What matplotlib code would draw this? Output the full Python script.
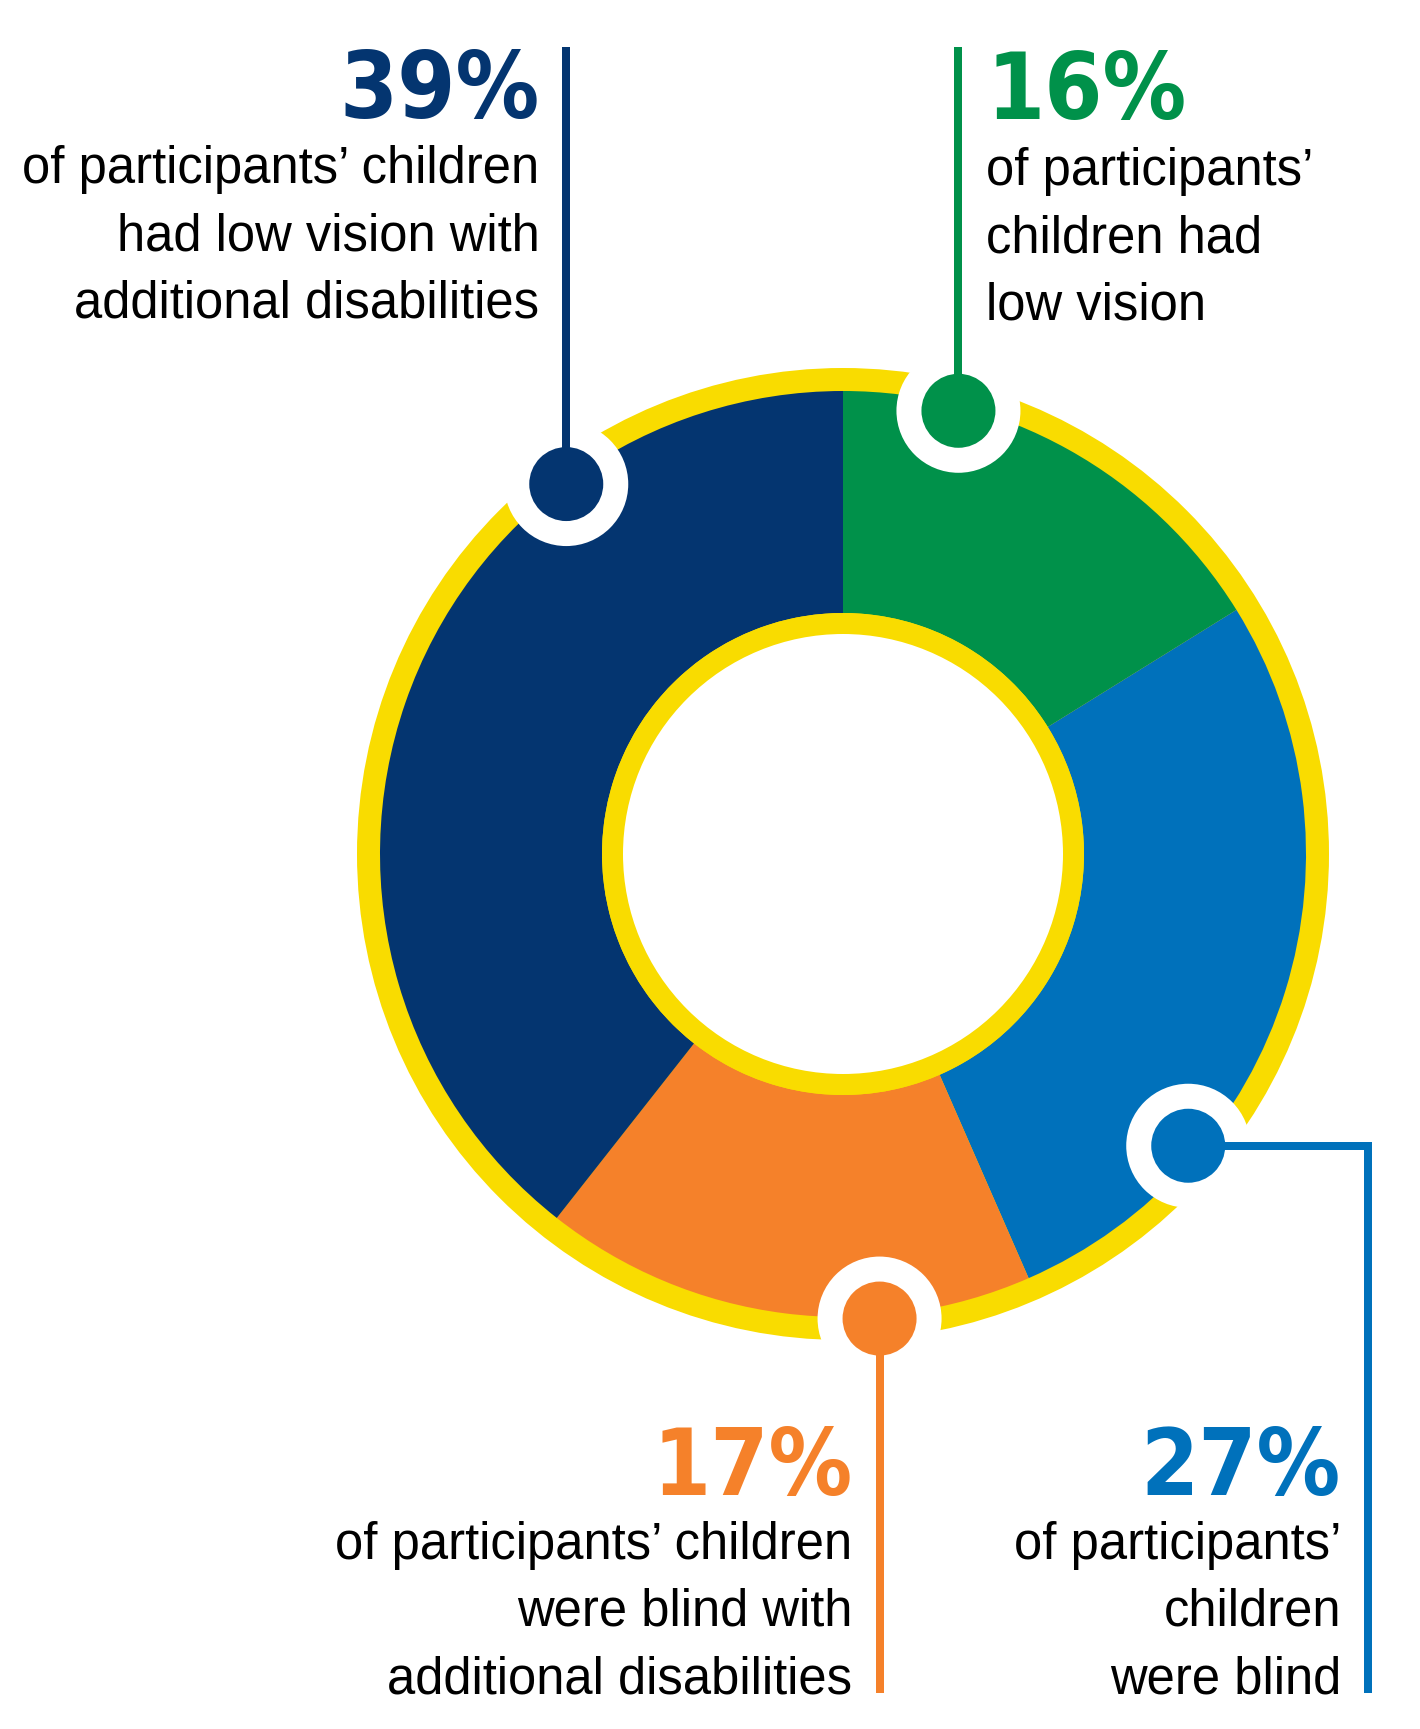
import matplotlib
matplotlib.use("Agg")
import matplotlib.pyplot as plt
from matplotlib import font_manager
from matplotlib.font_manager import FontProperties
from matplotlib.patches import Circle
from math import sin, cos, radians

# data: share of participants' children, clockwise from 12 o'clock
shares = [16, 27, 17, 39]
pct_labels = ["16%", "27%", "17%", "39%"]
descriptions = [
    "of participants’\nchildren had\nlow vision",
    "of participants’\nchildren\nwere blind",
    "of participants’ children\nwere blind with\nadditional disabilities",
    "of participants’ children\nhad low vision with\nadditional disabilities",
]
colors = ["#00914a", "#0071bb", "#f5812a", "#043570"]
yellow = "#f9dc00"

# layout (pixels, y down)
W, H = 1420, 1729
cx, cy = 843, 854
r_outer_yellow, r_outer = 486, 463
r_inner, r_inner_white = 241, 220

# callout anchors: angle clockwise from top, distance from centre
anchor_angle = [14.6, 130.2, 175.5, -36.8]
anchor_dist = [458, 452, 466, 462]
line_x = [None, 1368, None, None]
line_end_y = [47, 1693, 1693, 47]
text_side = ["left", "right", "right", "right"]
pct_base_y = [119, 1495, 1495, 118]
body_first_base = [185, 1559, 1559, 183]
line_gap = 67

# pick a narrow bold face for the big numbers if one is around
files = [f.fname for f in font_manager.fontManager.ttflist]
bold_file = None
for key in ["LiberationSansNarrow-Bold.", "DejaVuSansCondensed-Bold.", "Condensed-Bold.", "Narrow-Bold."]:
    hits = [f for f in files if key in f.split("/")[-1]]
    if hits:
        bold_file = hits[0]
        break
if bold_file:
    pct_font = FontProperties(fname=bold_file, size=67)
else:
    pct_font = FontProperties(family="DejaVu Sans", weight="bold", size=60)

names = {f.name for f in font_manager.fontManager.ttflist}
body_font = "Liberation Sans" if "Liberation Sans" in names else "DejaVu Sans"

fig = plt.figure(figsize=(W / 100, H / 100), dpi=100)
ax = fig.add_axes([0, 0, 1, 1])

ax.add_patch(Circle((cx, cy), r_outer_yellow, color=yellow, lw=0, zorder=1))
wedges, _ = ax.pie(shares, colors=colors, startangle=-90, counterclock=True,
                   center=(cx, cy), radius=r_outer,
                   wedgeprops=dict(width=r_outer - r_inner, linewidth=0))
for w in wedges:
    w.set_zorder(2)
ax.add_patch(Circle((cx, cy), r_inner, color=yellow, lw=0, zorder=3))
ax.add_patch(Circle((cx, cy), r_inner_white, color="white", lw=0, zorder=4))

lw = 8 * 72 / 100
for i in range(len(shares)):
    a = radians(anchor_angle[i])
    dx = cx + anchor_dist[i] * sin(a)
    dy = cy - anchor_dist[i] * cos(a)
    ax.add_patch(Circle((dx, dy), 62, color="white", lw=0, zorder=5))
    ax.add_patch(Circle((dx, dy), 37, color=colors[i], lw=0, zorder=7))
    if line_x[i] is None:
        lx = dx
        ax.plot([lx, lx], [dy, line_end_y[i]], color=colors[i], lw=lw,
                solid_capstyle="butt", zorder=6)
    else:
        lx = line_x[i]
        ax.plot([dx, lx, lx], [dy, dy, line_end_y[i]], color=colors[i], lw=lw,
                solid_capstyle="butt", solid_joinstyle="miter", zorder=6)

    if text_side[i] == "left":
        tx, ha = lx + 28, "left"
    else:
        tx, ha = lx - 27, "right"
    ax.text(tx, pct_base_y[i], pct_labels[i], color=colors[i], ha=ha, va="baseline",
            fontproperties=pct_font)
    for k, line in enumerate(descriptions[i].split("\n")):
        ax.text(tx, body_first_base[i] + k * line_gap, line, color="black", ha=ha,
                va="baseline", fontsize=36.5, family=body_font)

ax.set_xlim(0, W)
ax.set_ylim(H, 0)
ax.set_aspect("equal")
ax.axis("off")
fig.savefig("out.png", dpi=100, facecolor="white")
